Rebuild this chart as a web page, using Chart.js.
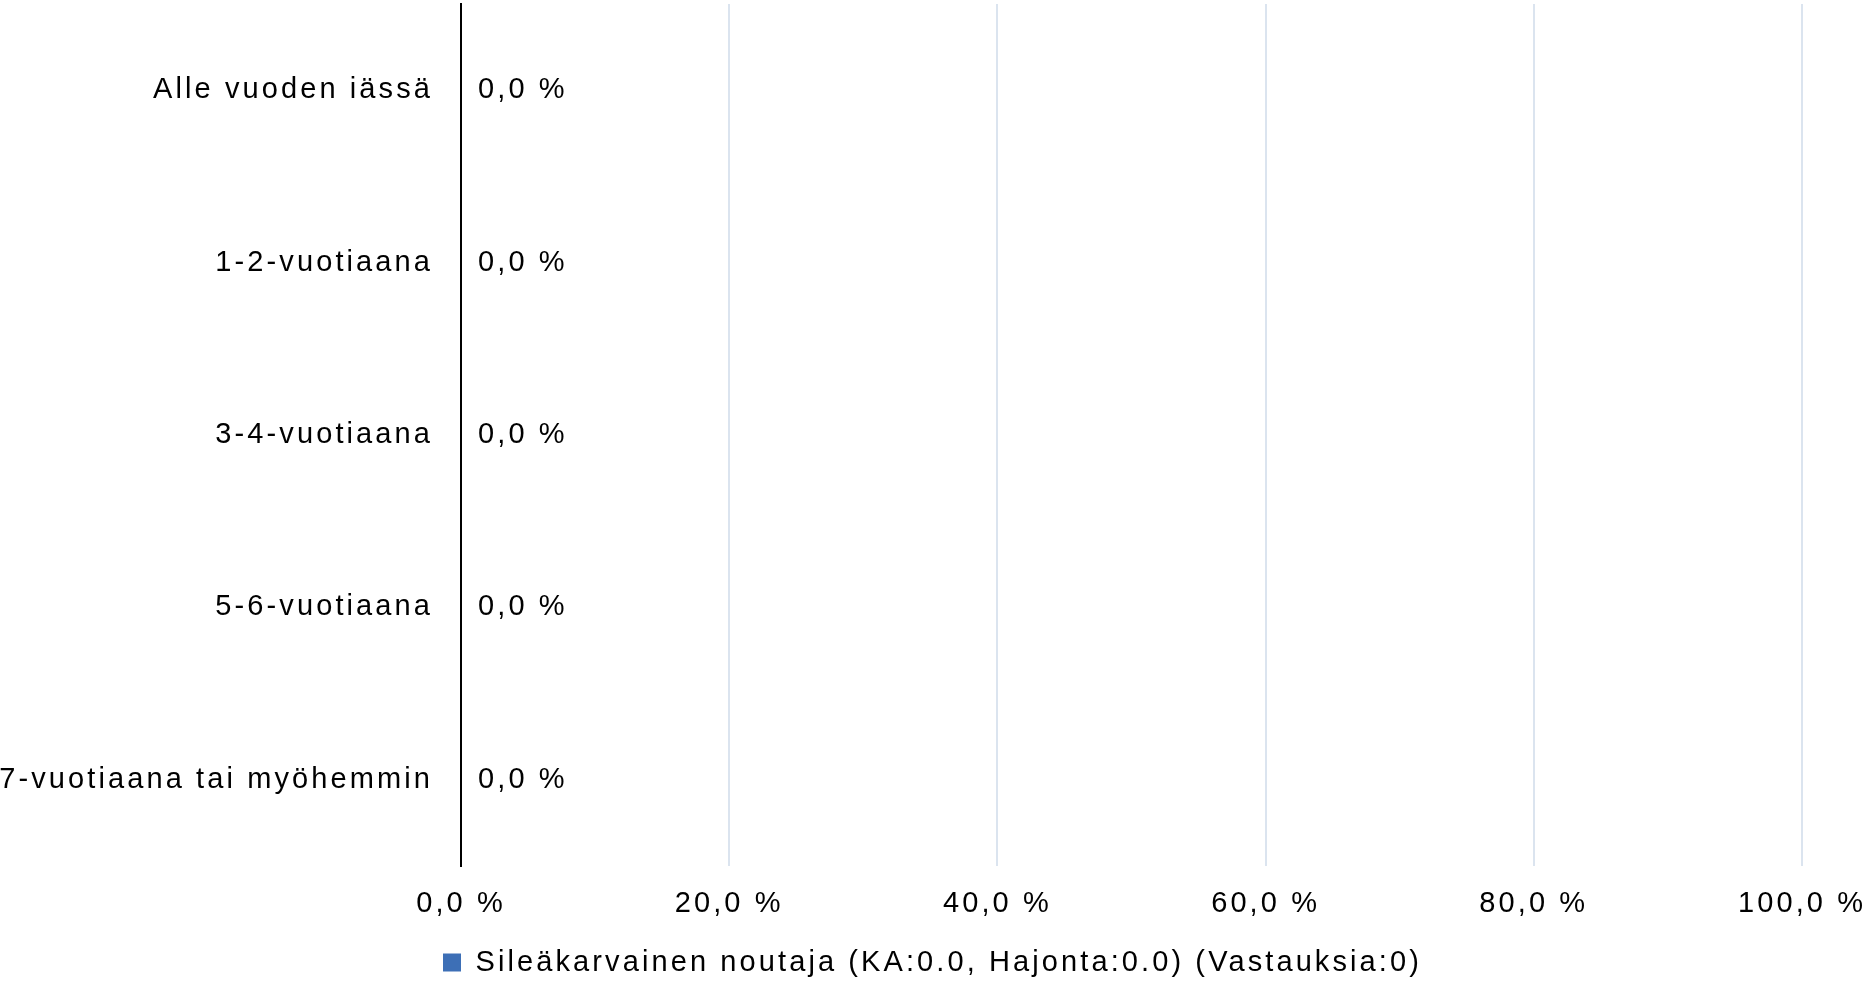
<!DOCTYPE html>
<html>
<head>
<meta charset="utf-8">
<script src="https://cdn.jsdelivr.net/npm/chart.js@4/dist/chart.umd.min.js"></script>
<style>
html,body{margin:0;padding:0;background:#fff;}
#wrap{width:1865px;height:981px;position:relative;}
</style>
</head>
<body>
<div id="wrap"><canvas id="c"></canvas></div>
<script>
const categories = ["Alle vuoden iässä", "1-2-vuotiaana", "3-4-vuotiaana", "5-6-vuotiaana", "7-vuotiaana tai myöhemmin"];
const seriesName = "Sileäkarvainen noutaja (KA:0.0, Hajonta:0.0) (Vastauksia:0)";
const seriesValues = [0, 0, 0, 0, 0];
const xTicks = [0, 20, 40, 60, 80, 100];

const FONT = "'Liberation Sans', Arial, sans-serif";
const FSIZE = 29;
const SPACING = '3.1px';

function fmt(v){ return v.toFixed(1).replace('.', ',') + ' %'; }

const spacingPlugin = {
  id: 'spacing',
  beforeUpdate(chart){ chart.ctx.letterSpacing = SPACING; },
  beforeLayout(chart){ chart.ctx.letterSpacing = SPACING; },
  beforeDraw(chart){ chart.ctx.letterSpacing = SPACING; }
};

const dataLabelPlugin = {
  id: 'dlabels',
  afterDatasetsDraw(chart){
    const ctx = chart.ctx;
    const meta = chart.getDatasetMeta(0);
    ctx.save();
    ctx.letterSpacing = SPACING;
    ctx.font = FSIZE + 'px ' + FONT;
    ctx.fillStyle = '#000';
    ctx.textAlign = 'left';
    ctx.textBaseline = 'middle';
    meta.data.forEach((bar, i) => {
      ctx.fillText(fmt(seriesValues[i]), bar.x + 17, bar.y);
    });
    ctx.restore();
  }
};

Chart.defaults.font.family = FONT;
Chart.defaults.font.size = FSIZE;
Chart.defaults.color = '#000';

new Chart(document.getElementById('c'), {
  type: 'bar',
  data: {
    labels: categories,
    datasets: [{
      label: seriesName,
      data: seriesValues,
      backgroundColor: '#3d6fb6',
      borderWidth: 0,
      barPercentage: 0.6
    }]
  },
  options: {
    indexAxis: 'y',
    responsive: true,
    maintainAspectRatio: false,
    animation: false,
    layout: { padding: { top: 4, left: 0, right: 0, bottom: -6 } },
    scales: {
      x: {
        min: 0, max: 100,
        afterBuildTicks(scale){ scale.ticks = xTicks.map(v => ({ value: v })); },
        ticks: {
          callback: (v) => fmt(v),
          padding: 21,
          maxRotation: 0
        },
        grid: { color: '#dbe4ef', lineWidth: 2, drawTicks: false },
        border: { display: false },
        afterFit(scale){ scale.height = 81; scale.paddingLeft = 0; scale.paddingRight = 63; scale.paddingTop = 0; scale.paddingBottom = 0; }
      },
      y: {
        grid: { display: false, drawTicks: false },
        border: { display: true, color: '#000', width: 2 },
        ticks: { padding: 28 },
        afterFit(scale){ scale.width = 461; scale.paddingTop = 0; scale.paddingBottom = 0; scale.paddingLeft = 0; scale.paddingRight = 0; }
      }
    },
    plugins: {
      legend: {
        position: 'bottom',
        labels: { boxWidth: 18, boxHeight: 18, padding: 1, color: '#000', font: { size: 29 } }
      },
      tooltip: { enabled: false }
    }
  },
  plugins: [spacingPlugin, dataLabelPlugin]
});
</script>
</body>
</html>
